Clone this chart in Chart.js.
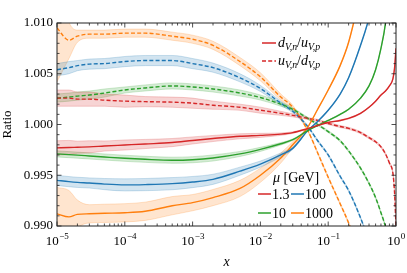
<!DOCTYPE html>
<html>
<head>
<meta charset="utf-8">
<script src="https://cdn.jsdelivr.net/npm/chart.js@4.4.1/dist/chart.umd.min.js"></script>
<style>
  html, body { margin: 0; padding: 0; background: #fff; }
  #wrap { width: 407px; height: 273px; }
</style>
</head>
<body>
<div id="wrap"><canvas id="ratioChart"></canvas></div>
<script>
const chartRatio = document.getElementById("ratioChart");

// x grid shared by every curve
const xValues = [1e-5, 1.5e-5, 2e-5, 3e-5, 5e-5, 1e-4, 2e-4, 5e-4, 1e-3, 2e-3, 5e-3, 1e-2, 2e-2, 3e-2, 5e-2, 0.07, 0.1, 0.15, 0.2, 0.3, 0.4, 0.5, 0.6, 0.7, 0.8, 0.9, 0.95, 1];

// d_V,n / u_V,p  (solid)
const dnup13 = [0.9977, 0.99773, 0.99776, 0.9978, 0.99788, 0.99798, 0.99808, 0.99822, 0.99843, 0.99862, 0.99884, 0.99893, 0.99905, 0.9992, 0.9996, 0.9999, 1.0002, 1.0004, 1.0006, 1.0011, 1.0017, 1.0023, 1.0029, 1.0033, 1.0038, 1.0045, 1.0055, 1.0075];
const dnup13Err = [0.0007, 0.0007, 0.0006, 0.0006, 0.0005, 0.0005, 0.00045, 0.0004, 0.00035, 0.0003, 0.00025, 0.0002, 0.00012, 0.00008, 0.00003, 0.00003, 0.00004, 0.00005, 0.00005, 0.00005, 0.00005, 0.00005, 0.00005, 0.00005, 0.00005, 0.00005, 0.00005, 0.00005];
const dnup10 = [0.99711, 0.99703, 0.99698, 0.9969, 0.9968, 0.99667, 0.99657, 0.99648, 0.99653, 0.9967, 0.9971, 0.99755, 0.9981, 0.9985, 0.9994, 0.9999, 1.0004, 1.001, 1.0015, 1.0026, 1.0038, 1.0054, 1.0075, 1.01, 1.014, 1.019, 1.022, 1.025];
const dnup10Err = [0.0003, 0.0003, 0.0003, 0.0003, 0.0003, 0.0003, 0.0003, 0.0003, 0.0003, 0.0003, 0.00025, 0.0002, 0.00012, 0.00008, 0.00003, 0.00003, 0.00004, 0.00005, 0.00005, 0.00005, 0.00005, 0.00005, 0.00005, 0.00005, 0.00005, 0.00005, 0.00005, 0.00005];
const dnup100 = [0.9945, 0.99437, 0.9943, 0.99424, 0.99413, 0.99405, 0.99408, 0.99417, 0.99433, 0.9946, 0.9954, 0.9961, 0.997, 0.99765, 0.9994, 1.0003, 1.0014, 1.003, 1.0046, 1.0078, 1.0105, 1.0135, 1.0165, 1.019, 1.022, 1.025, 1.0265, 1.028];
const dnup100Err = [0.0005, 0.0005, 0.0005, 0.0005, 0.00055, 0.0006, 0.0006, 0.0006, 0.00055, 0.0005, 0.0004, 0.0003, 0.0002, 0.00012, 0.00004, 0.00004, 0.00005, 0.00005, 0.00005, 0.00005, 0.00005, 0.00005, 0.00005, 0.00005, 0.00005, 0.00005, 0.00005, 0.00005];
const dnup1000 = [0.9912, 0.9909, 0.99115, 0.9912, 0.99125, 0.9913, 0.99145, 0.992, 0.9923, 0.9928, 0.9937, 0.995, 0.9967, 0.998, 0.99975, 1.0015, 1.0034, 1.0058, 1.0081, 1.013, 1.017, 1.021, 1.025, 1.028, 1.031, 1.034, 1.035, 1.036];
const dnup1000Err = [0.0026, 0.0026, 0.0014, 0.0009, 0.0009, 0.0009, 0.0009, 0.0009, 0.0008, 0.0008, 0.0008, 0.0007, 0.0005, 0.0003, 0.00005, 0.00005, 0.00005, 0.00005, 0.00005, 0.00005, 0.00005, 0.00005, 0.00005, 0.00005, 0.00005, 0.00005, 0.00005, 0.00005];

// u_V,n / d_V,p  (dashed)
const undp13 = [1.0026, 1.0026, 1.0025, 1.0025, 1.0024, 1.0023, 1.00225, 1.0022, 1.0021, 1.0019, 1.0017, 1.00141, 1.0011, 1.0009, 1.0006, 1.0004, 1.0001, 0.9998, 0.99962, 0.9992, 0.9987, 0.9983, 0.9978, 0.9971, 0.9962, 0.9952, 0.9934, 0.99];
const undp13Err = [0.0008, 0.0008, 0.0007, 0.0007, 0.0006, 0.0006, 0.0005, 0.0005, 0.0005, 0.0004, 0.0003, 0.0003, 0.0002, 0.00015, 0.0001, 0.0001, 0.0001, 0.0001, 0.0001, 0.0001, 0.0001, 0.0001, 0.0001, 0.0001, 0.0001, 0.0001, 0.0001, 0.0001];
const undp10 = [1.0026, 1.0027, 1.0028, 1.0029, 1.0031, 1.0034, 1.0036, 1.0038, 1.0037, 1.0035, 1.0031, 1.00266, 1.002, 1.0015, 1.0006, 1.0, 0.9993, 0.9984, 0.9974, 0.9957, 0.9942, 0.9928, 0.9913, 0.9899, 0.988, 0.986, 0.985, 0.984];
const undp10Err = [0.0004, 0.0004, 0.0004, 0.0004, 0.0004, 0.0003, 0.0003, 0.0003, 0.0003, 0.0003, 0.0003, 0.00025, 0.0002, 0.00015, 0.0001, 0.0001, 0.0001, 0.0001, 0.0001, 0.0001, 0.0001, 0.0001, 0.0001, 0.0001, 0.0001, 0.0001, 0.0001, 0.0001];
const undp100 = [1.0054, 1.0056, 1.0058, 1.00595, 1.006, 1.0062, 1.0063, 1.0063, 1.006, 1.0056, 1.0046, 1.00355, 1.0021, 1.0013, 0.9998, 0.9984, 0.997, 0.9949, 0.9935, 0.9908, 0.9885, 0.9865, 0.9845, 0.983, 0.981, 0.979, 0.978, 0.977];
const undp100Err = [0.0006, 0.0006, 0.0005, 0.0005, 0.0005, 0.0005, 0.0005, 0.0005, 0.0005, 0.00045, 0.0004, 0.0003, 0.0002, 0.00015, 0.0001, 0.0001, 0.0001, 0.0001, 0.0001, 0.0001, 0.0001, 0.0001, 0.0001, 0.0001, 0.0001, 0.0001, 0.0001, 0.0001];
const undp1000 = [1.0095, 1.0083, 1.0087, 1.0089, 1.0089, 1.009, 1.009, 1.0087, 1.0084, 1.0078, 1.0062, 1.0047, 1.0027, 1.0017, 0.9994, 0.9972, 0.9948, 0.9922, 0.9903, 0.987, 0.984, 0.981, 0.978, 0.975, 0.972, 0.969, 0.968, 0.967];
const undp1000Err = [0.0053, 0.0018, 0.0006, 0.0004, 0.0004, 0.0004, 0.0004, 0.0004, 0.0004, 0.0004, 0.0004, 0.0004, 0.0003, 0.0002, 0.0001, 0.0001, 0.0001, 0.0001, 0.0001, 0.0001, 0.0001, 0.0001, 0.0001, 0.0001, 0.0001, 0.0001, 0.0001, 0.0001];

const yTicks = [0.990, 0.995, 1.000, 1.005, 1.010];
const xTickExps = [-5, -4, -3, -2, -1, 0];
const muLabels = ["1.3", "10", "100", "1000"];

const colors = {
  "1.3": "214, 39, 40",
  "10": "44, 160, 44",
  "100": "31, 119, 180",
  "1000": "255, 127, 14",
};

const SERIF = '"Liberation Serif", "DejaVu Serif", serif';

const curve = (values, errs, rgb, dashed) => {
  const pts = (arr) => arr.map((v, i) => ({ x: xValues[i], y: v }));
  const common = { pointRadius: 0, cubicInterpolationMode: "monotone" };
  return [
    {
      ...common,
      data: pts(values),
      borderColor: `rgb(${rgb})`,
      borderWidth: 1.4,
      borderDash: dashed ? [4, 2.2] : [],
      fill: false,
      order: 0,
    },
    {
      ...common,
      data: pts(values.map((v, i) => v + errs[i])),
      borderColor: `rgba(${rgb}, 0.35)`,
      backgroundColor: `rgba(${rgb}, 0.2)`,
      borderWidth: 0.6,
      fill: "+1",
      order: 2,
    },
    {
      ...common,
      data: pts(values.map((v, i) => v - errs[i])),
      borderColor: `rgba(${rgb}, 0.35)`,
      borderWidth: 0.6,
      fill: false,
      order: 2,
    },
  ];
};

const datasets = [
  ...curve(dnup13, dnup13Err, colors["1.3"], false),
  ...curve(dnup10, dnup10Err, colors["10"], false),
  ...curve(dnup100, dnup100Err, colors["100"], false),
  ...curve(dnup1000, dnup1000Err, colors["1000"], false),
  ...curve(undp13, undp13Err, colors["1.3"], true),
  ...curve(undp10, undp10Err, colors["10"], true),
  ...curve(undp100, undp100Err, colors["100"], true),
  ...curve(undp1000, undp1000Err, colors["1000"], true),
];

// draws text pieces one after another, italic and subscript as needed
const drawRuns = (ctx, x, y, runs, size) => {
  runs.forEach((r) => {
    const s = r.sub ? size * 0.7 : size;
    ctx.font = `${r.it ? "italic " : ""}${s}px ${SERIF}`;
    ctx.fillText(r.t, x, y + (r.sub ? size * 0.22 : 0));
    x += ctx.measureText(r.t).width;
  });
};

const sampleLine = (ctx, x1, x2, y, color, dash) => {
  ctx.save();
  ctx.strokeStyle = color;
  ctx.lineWidth = 1.5;
  ctx.setLineDash(dash);
  ctx.beginPath();
  ctx.moveTo(x1, y);
  ctx.lineTo(x2, y);
  ctx.stroke();
  ctx.restore();
};

const frameAndTicks = {
  id: "frameAndTicks",
  afterDraw(chart) {
    const { ctx, chartArea: a, scales } = chart;
    const xs = scales.x;
    const ys = scales.y;
    ctx.save();
    ctx.strokeStyle = "#222";
    ctx.lineWidth = 0.8;
    const seg = (x1, y1, x2, y2) => {
      ctx.beginPath();
      ctx.moveTo(x1, y1);
      ctx.lineTo(x2, y2);
      ctx.stroke();
    };
    // x ticks, major and minor, on bottom and top
    for (let e = -5; e <= 0; e++) {
      for (let m = 1; m <= 9; m++) {
        const v = m * Math.pow(10, e);
        if (v > 1.0000001) break;
        const px = xs.getPixelForValue(v);
        const len = m === 1 ? 4.5 : 2.5;
        seg(px, a.bottom, px, a.bottom - len);
        seg(px, a.top, px, a.top + len);
      }
    }
    // y ticks, every 0.001, on left and right
    for (let k = 0; k <= 20; k++) {
      const py = ys.getPixelForValue(0.99 + k * 0.001);
      const len = k % 5 === 0 ? 4.5 : 2.5;
      seg(a.left, py, a.left + len, py);
      seg(a.right, py, a.right - len, py);
    }
    ctx.lineWidth = 1;
    ctx.strokeRect(a.left, a.top, a.right - a.left, a.bottom - a.top);

    // x tick labels 10^n
    ctx.fillStyle = "#000";
    ctx.textBaseline = "alphabetic";
    ctx.textAlign = "left";
    xTickExps.forEach((n) => {
      const px = xs.getPixelForValue(Math.pow(10, n));
      ctx.font = `13px ${SERIF}`;
      const wBase = ctx.measureText("10").width;
      const exp = n < 0 ? "\u2212" + Math.abs(n) : String(n);
      ctx.font = `9px ${SERIF}`;
      const wExp = ctx.measureText(exp).width;
      const x0 = px - (wBase + wExp) / 2;
      ctx.font = `13px ${SERIF}`;
      ctx.fillText("10", x0, a.bottom + 19);
      ctx.font = `9px ${SERIF}`;
      ctx.fillText(exp, x0 + wBase + 0.5, a.bottom + 13);
    });

    // ratio legend, top right
    const red = `rgb(${colors["1.3"]})`;
    sampleLine(ctx, 262, 276, 43, red, []);
    sampleLine(ctx, 262, 276, 61, red, [4, 2.2]);
    ctx.fillStyle = "#000";
    drawRuns(ctx, 278, 47, [
      { t: "d", it: true }, { t: "V,n", it: true, sub: true },
      { t: "/" }, { t: "u", it: true }, { t: "V,p", it: true, sub: true },
    ], 14);
    drawRuns(ctx, 278, 65, [
      { t: "u", it: true }, { t: "V,n", it: true, sub: true },
      { t: "/" }, { t: "d", it: true }, { t: "V,p", it: true, sub: true },
    ], 14);

    // scale legend, bottom right
    drawRuns(ctx, 273, 182, [{ t: "\u03bc", it: true }, { t: " [GeV]" }], 14);
    const slots = [
      { x: 258, y: 194 }, { x: 258, y: 213 },
      { x: 291, y: 194 }, { x: 291, y: 213 },
    ];
    const order = ["1.3", "10", "100", "1000"];
    order.forEach((lab, i) => {
      const s = slots[i];
      sampleLine(ctx, s.x, s.x + 13, s.y, `rgb(${colors[lab]})`, []);
      ctx.font = `14px ${SERIF}`;
      ctx.fillStyle = "#000";
      ctx.fillText(muLabels[muLabels.indexOf(lab)], s.x + 14, s.y + 5);
    });
    ctx.restore();
  },
};

new Chart(chartRatio, {
  type: "line",
  data: { datasets },
  options: {
    responsive: true,
    maintainAspectRatio: false,
    animation: false,
    layout: { padding: { top: 23, right: 11, left: 0, bottom: 0 } },
    plugins: {
      legend: { display: false },
      tooltip: { enabled: false },
    },
    scales: {
      x: {
        type: "logarithmic",
        min: 1e-5,
        max: 1,
        grid: { display: false, drawTicks: false },
        border: { display: false },
        ticks: { display: false },
        title: {
          display: true,
          text: "x",
          color: "#000",
          font: { family: SERIF, size: 14, style: "italic" },
          padding: { top: 0, bottom: 2 },
        },
        afterFit: (s) => { s.height = 47; },
      },
      y: {
        min: 0.99,
        max: 1.01,
        grid: { display: false, drawTicks: false },
        border: { display: false },
        afterBuildTicks: (s) => { s.ticks = yTicks.map((v) => ({ value: v })); },
        ticks: {
          autoSkip: false,
          color: "#000",
          padding: 4,
          font: { family: SERIF, size: 13 },
          callback: (v) => Number(v).toFixed(3),
        },
        title: {
          display: true,
          text: "Ratio",
          color: "#000",
          font: { family: SERIF, size: 13 },
          padding: { top: 0, bottom: 0 },
        },
        afterFit: (s) => { s.width = 57; },
      },
    },
  },
  plugins: [frameAndTicks],
});
</script>
</body>
</html>
